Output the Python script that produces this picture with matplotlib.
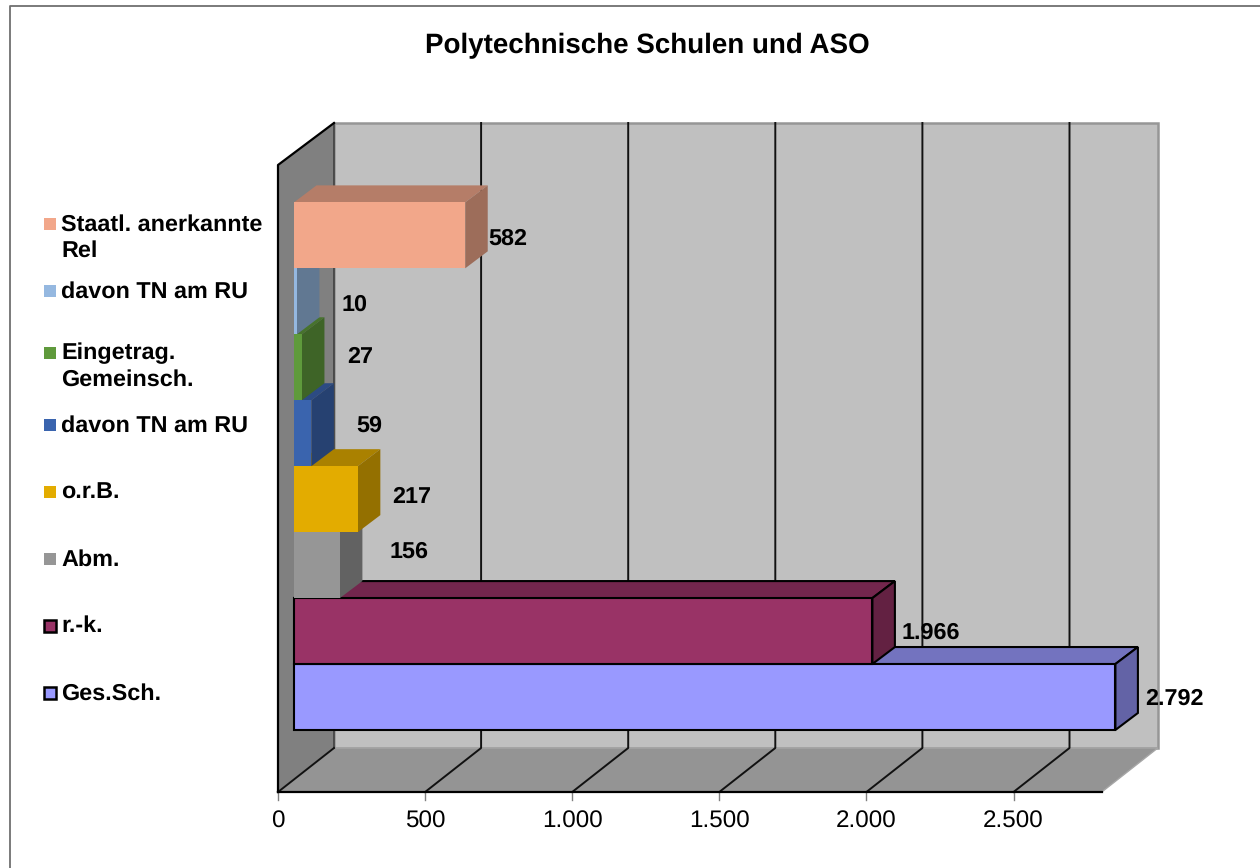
import matplotlib
matplotlib.use("Agg")
import matplotlib.pyplot as plt
from matplotlib.patches import Polygon, Rectangle
from matplotlib.transforms import Affine2D

plt.rcParams['font.family'] = ['Liberation Sans', 'DejaVu Sans']
plt.rcParams['text.hinting'] = 'no_hinting'

title = "Polytechnische Schulen und ASO"
categories = ["Ges.Sch.", "r.-k.", "Abm.", "o.r.B.", "davon TN am RU",
              "Eingetrag.\nGemeinsch.", "davon TN am RU", "Staatl. anerkannte\nRel"]
values = [2792, 1966, 156, 217, 59, 27, 10, 582]
value_labels = ["2.792", "1.966", "156", "217", "59", "27", "10", "582"]
tick_values = [0, 500, 1000, 1500, 2000, 2500]
tick_labels = ["0", "500", "1.000", "1.500", "2.000", "2.500"]
colors = ["#9999FF", "#993366", "#969696", "#E3AC00", "#3A64AE", "#5F9A3C", "#95B8E0", "#F2A78A"]
outlined = [True, True, False, False, False, False, False, False]
axis_max = 2800

W, H = 1260, 868
PX = 0.2942          # pixels per value unit
X0 = 278             # pixel of value 0 on the front floor edge
CAT = 65.95          # pixels per category
Y0 = 697             # pixel of category 0 centre

fig = plt.figure(figsize=(W / 100, H / 100), dpi=100)
ax = fig.add_axes([0, 0, 1, 1])
ax.set_xlim(-X0 / PX, (W - X0) / PX)
ax.set_ylim((Y0 - H) / CAT, Y0 / CAT)
ax.axis("off")
pix = Affine2D().scale(1, -1).translate(0, H)   # layout overlay in image pixels

# chart frame
ax.plot([10, 10, W], [H, 6, 6], transform=pix, color="#707070", lw=1.3, clip_on=False, solid_capstyle="butt")

def dx(p): return p / PX
def dy(p): return p / CAT

FLOOR = (Y0 - 792) / CAT
TOP = (Y0 - 165) / CAT
WX, WY = dx(56), dy(44)
TOPB = TOP + dy(42)
BAR_X = dx(16)
BX, BY = dx(22.5), dy(17)

# walls and floor
ax.add_patch(Polygon([(WX, FLOOR + WY), (axis_max + WX, FLOOR + WY), (axis_max + WX, TOPB), (WX, TOPB)],
                     fc="#C0C0C0", ec="#969696", lw=1.8, zorder=1))
ax.add_patch(Polygon([(0, FLOOR), (WX, FLOOR + WY), (WX, TOPB), (0, TOP)], fc="#808080", ec="none", zorder=1))
ax.add_patch(Polygon([(0, FLOOR), (axis_max, FLOOR), (axis_max + WX, FLOOR + WY), (WX, FLOOR + WY)],
                     fc="#949494", ec="#A6A6A6", lw=1, zorder=1))
ax.plot([WX, WX], [FLOOR + WY, TOPB], color="#404040", lw=1.2, zorder=2)
ax.plot([0, 0, WX], [FLOOR, TOP, TOPB], color="black", lw=1.6, zorder=3)
ax.plot([0, axis_max], [FLOOR, FLOOR], color="black", lw=1.6, zorder=3)

for i, (v, t) in enumerate(zip(tick_values, tick_labels)):
    ax.plot([v, v + WX, v + WX], [FLOOR, FLOOR + WY, TOPB] if i else [FLOOR, FLOOR + WY, FLOOR + WY],
            color="#111111", lw=1.4, zorder=2)
    ax.plot([v, v], [FLOOR, FLOOR - dy(8)], color="#808080", lw=1, zorder=2)
    ax.text(v, FLOOR - dy(30), t, ha="center", va="center", fontsize=17.5, color="black")


def shade(c, f):
    r, g, b = matplotlib.colors.to_rgb(c)
    return (r * f, g * f, b * f)

# bars: lower bars first, each later bar paints over the top of the one below
for i in range(len(values)):
    v, c = values[i], colors[i]
    x0, x1 = BAR_X, BAR_X + v
    y0, y1 = i - 0.5, i + 0.5
    ec = "black" if outlined[i] else "none"
    z = 10 + i
    lw = 1.5
    ax.add_patch(Polygon([(x0, y1), (x1, y1), (x1 + BX, y1 + BY), (x0 + BX, y1 + BY)], fc=shade(c, 0.75), ec=ec, lw=lw, zorder=z))
    ax.add_patch(Polygon([(x1, y0), (x1 + BX, y0 + BY), (x1 + BX, y1 + BY), (x1, y1)], fc=shade(c, 0.65), ec=ec, lw=lw, zorder=z))
    ax.add_patch(Rectangle((x0, y0), v, 1, fc=c, ec=ec, lw=lw, zorder=z + 0.5))

# data labels (offset of label centre from bar end and bar centre, in pixels)
label_dx = [58.6, 58.6, 69, 54, 57.6, 58, 58, 43]
label_dy = [-2, -2, 13, 2, 7, 10, -4, -3]
for i, (v, s) in enumerate(zip(values, value_labels)):
    x = BAR_X + v + dx(label_dx[i])
    y = i + dy(label_dy[i])
    ax.text(x, y, s, ha="center", va="center", fontsize=16.8, fontweight="bold", color="black", zorder=40)

# legend
legend_y = [693, 626, 559, 492, 425, 353, 291, 224]
for i, (name, c, y) in enumerate(zip(categories, colors, legend_y)):
    ax.add_patch(Rectangle((44, y - 6), 12, 12, transform=pix, fc=c, ec="black" if outlined[i] else "none",
                           lw=1.8, clip_on=False, zorder=30))
    ax.text(61, y + 0.5, name.split("\n")[0], transform=pix, ha="left", va="center", fontsize=16.8,
            fontweight="bold", color="black", zorder=30)
    if "\n" in name:
        ax.text(61, y + 27, name.split("\n")[1], transform=pix, ha="left", va="center", fontsize=16.8,
                fontweight="bold", color="black", zorder=30)

ax.text(647, 46, title, transform=pix, ha="center", va="center", fontsize=20, fontweight="bold", color="black")

fig.savefig("out.png", dpi=100)
